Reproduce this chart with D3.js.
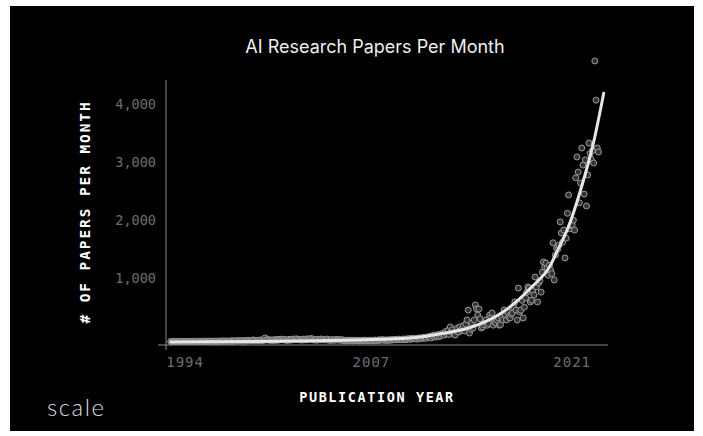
<!DOCTYPE html>
<html>
<head>
<meta charset="utf-8">
<script src="https://cdn.jsdelivr.net/npm/d3@7"></script>
<style>
  html, body { margin: 0; padding: 0; background: #fff; }
  svg { display: block; }
</style>
</head>
<body>
<svg id="chart" width="703" height="436"></svg>
<script>
// monthly paper counts, one row per year starting Jan 1993
const startYear = 1993;
const papers = [
  8, 9, 7, 10, 9, 8, 10, 9, 11, 10, 8, 10,            // 1993
  9, 10, 8, 12, 10, 9, 11, 10, 13, 11, 9, 12,         // 1994
  10, 12, 9, 14, 11, 10, 13, 12, 15, 13, 10, 14,      // 1995
  12, 14, 10, 16, 13, 12, 15, 14, 18, 16, 12, 15,     // 1996
  14, 18, 12, 22, 16, 15, 20, 18, 24, 20, 16, 22,     // 1997
  18, 22, 16, 26, 20, 19, 28, 22, 30, 36, 24, 28,     // 1998
  24, 30, 22, 36, 28, 26, 32, 70, 36, 44, 30, 38,     // 1999
  28, 34, 26, 42, 32, 30, 46, 36, 40, 50, 38, 44,     // 2000
  30, 38, 28, 46, 36, 34, 50, 40, 44, 55, 42, 48,     // 2001
  36, 44, 32, 50, 40, 38, 55, 42, 48, 60, 46, 52,     // 2002
  34, 40, 30, 48, 38, 36, 52, 40, 46, 36, 44, 50,     // 2003
  30, 36, 28, 40, 34, 30, 44, 36, 40, 32, 38, 42,     // 2004
  24, 28, 20, 30, 26, 22, 32, 25, 28, 20, 26, 30,     // 2005
  22, 26, 20, 30, 24, 28, 20, 32, 26, 24, 30, 28,     // 2006
  25, 30, 22, 35, 28, 26, 38, 30, 34, 40, 32, 36,     // 2007
  30, 35, 28, 40, 36, 32, 42, 38, 45, 36, 44, 50,     // 2008
  40, 45, 38, 52, 48, 42, 55, 50, 60, 47, 58, 65,     // 2009
  55, 60, 48, 70, 65, 58, 75, 62, 80, 70, 66, 90,     // 2010
  80, 95, 70, 110, 90, 120, 85, 100, 130, 95, 110, 140, // 2011
  150, 120, 180, 140, 200, 130, 260, 170, 210, 160, 120, 190, // 2012
  240, 170, 260, 200, 230, 280, 190, 310, 380, 550, 155, 220, // 2013
  330, 240, 380, 640, 570, 465, 570, 400, 240, 260, 300, 350, // 2014
  380, 290, 320, 465, 415, 500, 290, 350, 330, 380, 420, 290, // 2015
  300, 420, 380, 550, 470, 380, 520, 440, 415, 480, 500, 600, // 2016
  690, 550, 380, 930, 520, 550, 720, 415, 600, 760, 860, 950, // 2017
  930, 690, 720, 880, 810, 1120, 950, 690, 1020, 1060, 860, 1200, // 2018
  1380, 1290, 1360, 1275, 1150, 1320, 1240, 1180, 1710, 1070, 1500, 1620, // 2019
  1600, 1670, 2070, 1880, 1720, 1930, 1450, 1790, 2220, 2535, 1950, 2010, // 2020
  2020, 2100, 1930, 2830, 3190, 2930, 2400, 2740, 3345, 3050, 2550, 3140, // 2021
  2345, 2880, 3430, 3250, 3150, 3300, 3086, 4845, 4170, 3345, 3275       // 2022
];

// trend line
const fitYears  = [1993, 1998, 2003, 2006, 2008.2, 2010.4, 2012, 2013.9, 2016.2, 2018.1, 2019.5, 2020.0, 2020.7, 2021.6, 2022.5, 2023.2];
const fitValues = [1, 8, 20, 35, 50, 85, 150, 250, 520, 930, 1330, 1590, 1960, 2630, 3450, 4290];

const yearTicks = [1994, 2007, 2021];
const valueTicks = [1000, 2000, 3000, 4000];

const svg = d3.select("#chart");

svg.append("rect")
  .attr("x", 10).attr("y", 6)
  .attr("width", 684).attr("height", 425)
  .attr("fill", "#000");

const x = d3.scaleLinear().domain([1992.67, 2023.5]).range([166, 608]);
const y = d3.scaleLinear().domain([0, 4517]).range([342, 80]);

// axis lines
svg.append("line")
  .attr("x1", 158).attr("x2", 608)
  .attr("y1", 345).attr("y2", 345)
  .attr("stroke", "#8a8a8a").attr("stroke-width", 1);
svg.append("line")
  .attr("x1", 166).attr("x2", 166)
  .attr("y1", 80).attr("y2", 350)
  .attr("stroke", "#8a8a8a").attr("stroke-width", 1);

// tick labels
svg.selectAll(".ytick").data(valueTicks).join("text")
  .attr("class", "ytick")
  .attr("x", 156)
  .attr("y", d => y(d) - 1)
  .attr("text-anchor", "end")
  .attr("font-family", "DejaVu Sans Mono, monospace")
  .attr("font-size", 13.5)
  .attr("fill", "#6e6e6e")
  .text(d3.format(","));

svg.selectAll(".xtick").data(yearTicks).join("text")
  .attr("class", "xtick")
  .attr("x", d => x(d))
  .attr("y", 367)
  .attr("text-anchor", "middle")
  .attr("font-family", "DejaVu Sans Mono, monospace")
  .attr("font-size", 14)
  .attr("letter-spacing", 1)
  .attr("fill", "#6e6e6e")
  .text(d => d);

// points
const pts = papers.map((v, i) => ({t: startYear + i / 12, v}));

svg.append("g").selectAll("circle").data(pts).join("circle")
  .attr("cx", d => x(d.t))
  .attr("cy", d => y(d.v))
  .attr("r", 3)
  .attr("fill", "#333")
  .attr("stroke", "#9a9a9a")
  .attr("stroke-width", 1);

// trend line
const line = d3.line()
  .x((d, i) => x(fitYears[i]))
  .y(d => y(d))
  .curve(d3.curveMonotoneX);

svg.append("path")
  .attr("d", line(fitValues))
  .attr("fill", "none")
  .attr("stroke", "#e6e6e6")
  .attr("stroke-width", 3)
  .attr("stroke-linecap", "round");

// titles
svg.append("text")
  .attr("x", 375).attr("y", 53)
  .attr("text-anchor", "middle")
  .attr("font-family", "Inter, Roboto, sans-serif")
  .attr("font-size", 18)
  .attr("fill", "#eee")
  .text("AI Research Papers Per Month");

svg.append("text")
  .attr("x", 377).attr("y", 402)
  .attr("text-anchor", "middle")
  .attr("font-family", "DejaVu Sans Mono, monospace")
  .attr("font-weight", "bold")
  .attr("font-size", 13.5)
  .attr("letter-spacing", 1.6)
  .attr("fill", "#fff")
  .text("PUBLICATION YEAR");

svg.append("text")
  .attr("transform", "translate(90,212) rotate(-90)")
  .attr("text-anchor", "middle")
  .attr("font-family", "DejaVu Sans Mono, monospace")
  .attr("font-weight", "bold")
  .attr("font-size", 14.5)
  .attr("letter-spacing", 1.9)
  .attr("fill", "#fff")
  .text("# OF PAPERS PER MONTH");

// logo
svg.append("text")
  .attr("x", 47).attr("y", 416)
  .attr("font-family", "Lato, Noto Sans, sans-serif")
  .attr("font-weight", 300)
  .attr("font-size", 24)
  .attr("letter-spacing", 1.5)
  .attr("fill", "#ddd")
  .text("scale");
</script>
</body>
</html>
